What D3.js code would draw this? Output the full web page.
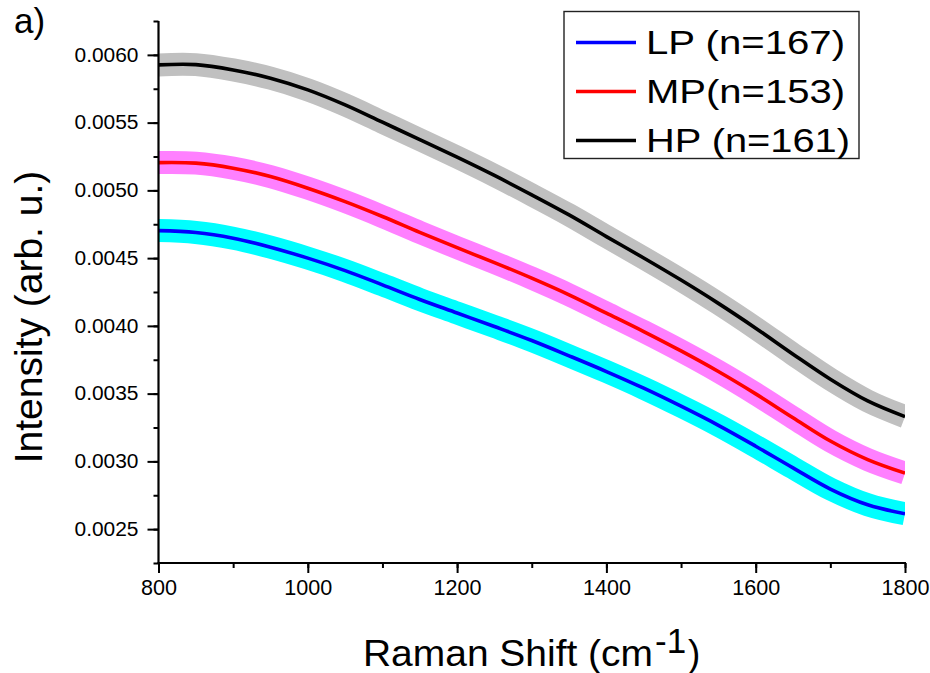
<!DOCTYPE html>
<html>
<head>
<meta charset="utf-8">
<script src="https://cdn.jsdelivr.net/npm/d3@7"></script>
<style>
  body { margin: 0; background: #fff; }
  svg { display: block; }
  text { font-family: Arial, "Liberation Sans", sans-serif; fill: #000; }
</style>
</head>
<body>
<svg id="chart" width="930" height="673"></svg>
<script>
// Raman shift grid (cm^-1)
const ramanShift = [800, 850, 900, 950, 1000, 1050, 1100, 1150, 1200, 1250, 1300,
                    1350, 1400, 1450, 1500, 1550, 1600, 1650, 1700, 1750, 1800];

// Mean background intensity per group (arb. u.)
const intensityLP = [0.004703, 0.004689, 0.004647, 0.004581, 0.004500, 0.004408, 0.004303,
                     0.004195, 0.004095, 0.003995, 0.003892, 0.003779, 0.003663, 0.003540,
                     0.003407, 0.003266, 0.003112, 0.002952, 0.002796, 0.002680, 0.002613];
const intensityMP = [0.005205, 0.005201, 0.005164, 0.005102, 0.005016, 0.004917, 0.004807,
                     0.004690, 0.004577, 0.004467, 0.004352, 0.004229, 0.004094, 0.003958,
                     0.003815, 0.003663, 0.003498, 0.003322, 0.003150, 0.003013, 0.002913];
const intensityHP = [0.005926, 0.005928, 0.005889, 0.005828, 0.005742, 0.005631, 0.005503,
                     0.005375, 0.005245, 0.005110, 0.004967, 0.004819, 0.004659, 0.004501,
                     0.004338, 0.004166, 0.003983, 0.003791, 0.003606, 0.003446, 0.003330];

const seriesLabels = ["LP (n=167)", "MP(n=153)", "HP (n=161)"];

const xTickValues = [800, 1000, 1200, 1400, 1600, 1800];
const yTickValues = [0.0025, 0.0030, 0.0035, 0.0040, 0.0045, 0.0050, 0.0055, 0.0060];

// Styling for each group: mean line colour and its shaded band colour
const lineColors = ["#0000FF", "#FF0000", "#000000"];
const bandColors = ["#00FFFF", "#FF80FF", "#C0C0C0"];

const series = [intensityLP, intensityMP, intensityHP].map((vals, i) => ({
  label: seriesLabels[i],
  line: lineColors[i],
  band: bandColors[i],
  points: ramanShift.map((x, j) => ({ x, y: vals[j] }))
}));

const svg = d3.select("#chart");

const x = d3.scaleLinear().domain([800, 1800]).range([158.5, 905]);
const y = d3.scaleLinear().domain([0.00225, 0.00625]).range([563, 21]);

// Plot clip
svg.append("defs").append("clipPath").attr("id", "plot-clip")
  .append("rect")
  .attr("x", x(800)).attr("y", 0)
  .attr("width", x(1800) - x(800)).attr("height", y(0.00225));

const lineGen = d3.line()
  .x(d => x(d.x))
  .y(d => y(d.y))
  .curve(d3.curveCatmullRom.alpha(0.5));

const plot = svg.append("g").attr("clip-path", "url(#plot-clip)");

// Shaded band behind each mean curve
plot.selectAll("path.band")
  .data(series)
  .join("path")
  .attr("class", "band")
  .attr("d", d => lineGen(d.points))
  .attr("fill", "none")
  .attr("stroke", d => d.band)
  .attr("stroke-width", 23)
  .attr("stroke-linecap", "butt")
  .attr("stroke-linejoin", "round");

// Mean curves
plot.selectAll("path.mean")
  .data(series)
  .join("path")
  .attr("class", "mean")
  .attr("d", d => lineGen(d.points))
  .attr("fill", "none")
  .attr("stroke", d => d.line)
  .attr("stroke-width", 3.6)
  .attr("stroke-linejoin", "round");

// X axis with minor ticks
const xAxisG = svg.append("g").attr("transform", `translate(0,${y(0.00225)})`);
xAxisG.append("g")
  .call(d3.axisBottom(x).tickValues(d3.range(800, 1801, 100)).tickSize(5).tickFormat(""))
  .call(g => g.select(".domain").remove());
xAxisG.append("g")
  .call(d3.axisBottom(x).tickValues(xTickValues).tickSize(10).tickPadding(7)
        .tickFormat(d3.format("d")))
  .call(g => g.select(".domain").remove())
  .call(g => g.selectAll("text").attr("font-size", 21.5)
        .attr("textLength", d => d >= 1000 ? 48 : 36).attr("lengthAdjust", "spacingAndGlyphs")
        .style("font-family", 'Arial, "Liberation Sans", sans-serif'));
xAxisG.selectAll("line").attr("stroke", "#000").attr("stroke-width", 2);

// Y axis with minor ticks
const yAxisG = svg.append("g").attr("transform", `translate(${x(800)},0)`);
yAxisG.append("g")
  .call(d3.axisLeft(y).tickValues(d3.range(0, 17).map(i => 0.00225 + i * 0.00025))
        .tickSize(5).tickFormat(""))
  .call(g => g.select(".domain").remove());
yAxisG.append("g")
  .call(d3.axisLeft(y).tickValues(yTickValues).tickSize(11).tickPadding(9)
        .tickFormat(d3.format(".4f")))
  .call(g => g.select(".domain").remove())
  .call(g => g.selectAll("text").attr("font-size", 19.5)
        .attr("textLength", 64).attr("lengthAdjust", "spacingAndGlyphs")
        .style("font-family", 'Arial, "Liberation Sans", sans-serif'));
yAxisG.selectAll("line").attr("stroke", "#000").attr("stroke-width", 2);

// Axis lines (left and bottom only)
svg.append("line")
  .attr("x1", x(800)).attr("x2", x(800))
  .attr("y1", y(0.00625)).attr("y2", y(0.00225) + 1)
  .attr("stroke", "#000").attr("stroke-width", 2.2);
svg.append("line")
  .attr("x1", x(800) - 1).attr("x2", x(1800) + 1)
  .attr("y1", y(0.00225)).attr("y2", y(0.00225))
  .attr("stroke", "#000").attr("stroke-width", 2.2);

// X axis title with superscript unit
svg.append("text")
  .attr("x", 363).attr("y", 666)
  .attr("font-size", 37)
  .attr("textLength", 290).attr("lengthAdjust", "spacingAndGlyphs")
  .text("Raman Shift (cm");
svg.append("text")
  .attr("x", 655).attr("y", 653)
  .attr("font-size", 35)
  .text("-1");
svg.append("text")
  .attr("x", 688).attr("y", 666)
  .attr("font-size", 37)
  .text(")");

// Y axis title
svg.append("text")
  .attr("transform", "translate(42,317) rotate(-90)")
  .attr("text-anchor", "middle")
  .attr("font-size", 39)
  .text("Intensity (arb. u.)");

// Panel letter
svg.append("text")
  .attr("x", 14).attr("y", 33)
  .attr("font-size", 35)
  .text("a)");

// Legend
const legend = svg.append("g");
legend.append("rect")
  .attr("x", 564).attr("y", 11.5)
  .attr("width", 295).attr("height", 147)
  .attr("fill", "#fff")
  .attr("stroke", "#222").attr("stroke-width", 1.4);

const legendWidths = [199, 199, 204];
const items = legend.selectAll("g.item")
  .data(series)
  .join("g")
  .attr("class", "item")
  .attr("transform", (d, i) => `translate(0,${54 + i * 49})`);
items.append("line")
  .attr("x1", 576).attr("x2", 636)
  .attr("y1", -11.5).attr("y2", -11.5)
  .attr("stroke", d => d.line)
  .attr("stroke-width", 3.4);
items.append("text")
  .attr("x", 646).attr("y", 0)
  .attr("font-size", 34)
  .attr("textLength", (d, i) => legendWidths[i])
  .attr("lengthAdjust", "spacingAndGlyphs")
  .text(d => d.label);
</script>
</body>
</html>
